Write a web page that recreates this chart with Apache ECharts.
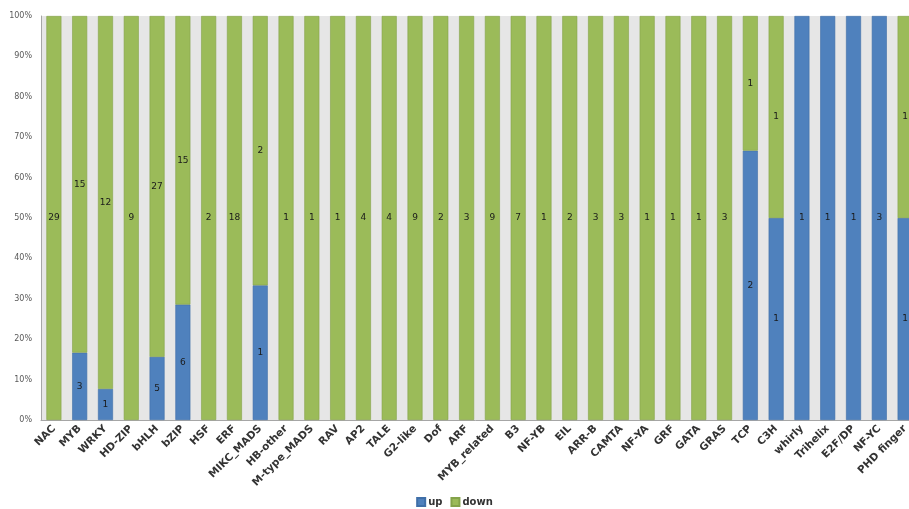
<!DOCTYPE html>
<html>
<head>
<meta charset="utf-8">
<script src="https://cdn.jsdelivr.net/npm/echarts@6/dist/echarts.min.js"></script>
<style>
    html, body { margin: 0; padding: 0; background: #fff; }
    #main { width: 909px; height: 509px; }
</style>
</head>
<body>
<div id="main"></div>
<script>
// 转录因子家族
var categories = ['NAC', 'MYB', 'WRKY', 'HD-ZIP', 'bHLH', 'bZIP', 'HSF', 'ERF', 'MIKC_MADS', 'HB-other',
    'M-type_MADS', 'RAV', 'AP2', 'TALE', 'G2-like', 'Dof', 'ARF', 'MYB_related', 'B3', 'NF-YB',
    'EIL', 'ARR-B', 'CAMTA', 'NF-YA', 'GRF', 'GATA', 'GRAS', 'TCP', 'C3H', 'whirly',
    'Trihelix', 'E2F/DP', 'NF-YC', 'PHD finger'];

// 上调 / 下调 基因个数
var upCounts = [0, 3, 1, 0, 5, 6, 0, 0, 1, 0,
    0, 0, 0, 0, 0, 0, 0, 0, 0, 0,
    0, 0, 0, 0, 0, 0, 0, 2, 1, 1,
    1, 1, 3, 1];
var downCounts = [29, 15, 12, 9, 27, 15, 2, 18, 2, 1,
    1, 1, 4, 4, 9, 2, 3, 9, 7, 1,
    2, 3, 3, 1, 1, 1, 3, 1, 1, 0,
    0, 0, 0, 1];

var yTicks = ['0%', '10%', '20%', '30%', '40%', '50%', '60%', '70%', '80%', '90%', '100%'];

// 百分比堆叠（0 个的不画）
function toPercent(arr, idx) {
    var total = upCounts[idx] + downCounts[idx];
    return arr[idx] ? arr[idx] / total * 100 : null;
}
var upData = upCounts.map(function (v, i) { return { value: toPercent(upCounts, i), count: v }; });
var downData = downCounts.map(function (v, i) { return { value: toPercent(downCounts, i), count: v }; });

var labelCfg = {
    show: true,
    position: 'inside',
    color: '#1a1a1a',
    fontSize: 9,
    fontFamily: 'DejaVu Sans',
    formatter: function (p) { return p.data.count ? String(p.data.count) : ''; }
};

var myChart = echarts.init(document.getElementById('main'));

var option = {
    animation: false,
    backgroundColor: '#fff',
    grid: {
        left: 41,
        top: 16,
        width: 877,
        height: 404,
        outerBoundsMode: 'none',
        show: true,
        backgroundColor: '#e6e6e6',
        borderWidth: 0
    },
    legend: {
        top: 492,
        left: 'center',
        itemWidth: 8,
        itemHeight: 8,
        itemGap: 8,
        icon: 'rect',
        textStyle: {
            fontSize: 10,
            fontWeight: 'bold',
            color: '#333',
            fontFamily: 'DejaVu Sans',
            padding: [0, 0, 0, -2]
        },
        data: ['up', 'down']
    },
    xAxis: {
        type: 'category',
        data: categories,
        axisLine: { lineStyle: { color: '#a6a6a6' } },
        axisTick: { show: false },
        axisLabel: {
            interval: 0,
            rotate: 45,
            margin: 7,
            fontSize: 10.5,
            fontWeight: 'bold',
            color: '#333',
            fontFamily: 'DejaVu Sans'
        }
    },
    yAxis: {
        type: 'value',
        min: 0,
        max: 100,
        interval: 10,
        axisLine: { show: true, lineStyle: { color: '#a6a6a6' } },
        axisTick: { show: false },
        splitLine: { show: false },
        axisLabel: {
            margin: 9,
            fontSize: 8,
            color: '#595959',
            fontFamily: 'DejaVu Sans',
            formatter: function (v) { return yTicks[Math.round(v / 10)]; }
        }
    },
    series: [{
        name: 'up',
        type: 'bar',
        stack: 'total',
        barWidth: 15,
        itemStyle: { color: '#4f81bd', borderColor: '#3f6fa8', borderWidth: 0.6 },
        label: labelCfg,
        data: upData
    }, {
        name: 'down',
        type: 'bar',
        stack: 'total',
        barWidth: 15,
        itemStyle: { color: '#9bbb59', borderColor: '#84a34a', borderWidth: 0.6 },
        label: labelCfg,
        data: downData
    }]
};

myChart.setOption(option);
</script>
</body>
</html>
